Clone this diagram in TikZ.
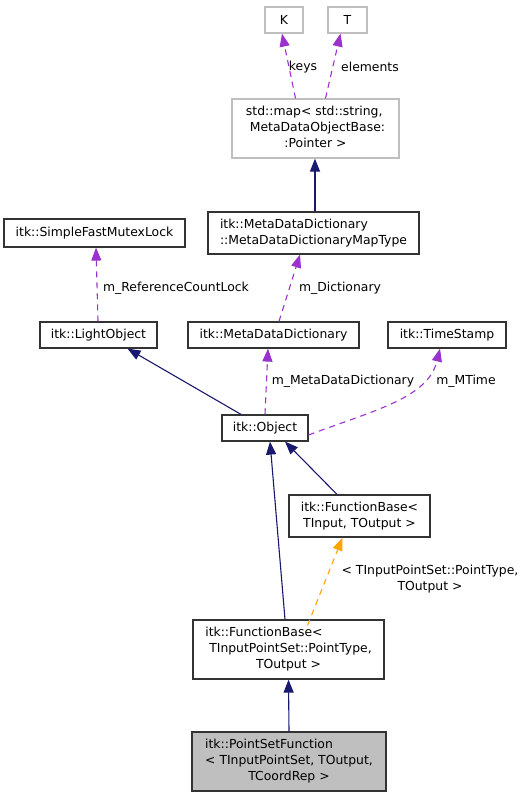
\documentclass[tikz,border=0pt]{standalone}
\usepackage{fontspec}
\setmainfont{DejaVu Sans}
\usetikzlibrary{arrows.meta}
\definecolor{navy}{HTML}{191970}
\definecolor{purp}{HTML}{9A32CD}
\definecolor{orng}{HTML}{FFA500}
\definecolor{lgray}{HTML}{BFBFBF}
\definecolor{boxline}{HTML}{333333}
\newcommand{\dfont}{\fontsize{12.4}{16}\selectfont}
\begin{document}
\begin{tikzpicture}[x=1pt,y=-1pt,
  box/.style={draw=boxline, line width=1.2pt, fill=white, inner sep=0pt, font=\dfont, align=center},
  gbox/.style={box, draw=lgray},
  lab/.style={font=\dfont, inner sep=0pt, align=center},
  tip/.style={-{Triangle[length=13pt,width=10pt]}},
  inh/.style={draw=navy, line width=1.1pt, tip},
  use/.style={draw=purp, line width=1.1pt, dash pattern=on 6pt off 5pt, tip},
  tmpl/.style={draw=orng, line width=1.1pt, dash pattern=on 6pt off 5pt, tip}
]
\useasboundingbox (0,0) rectangle (527,797);
\fill[white] (0,0) rectangle (527,797);

% nodes
\node[gbox, minimum width=38pt, minimum height=26pt] (K) at (284,20) {K};
\node[gbox, minimum width=39pt, minimum height=26pt] (T) at (347.5,20) {T};
\node[gbox, minimum width=167pt, minimum height=59pt] (map) at (315.5,128.5)
  {\begin{tabular}{@{}l@{}}std::map< std::string,\\ \ MetaDataObjectBase:\\ \multicolumn{1}{@{}c@{}}{:Pointer >}\end{tabular}};
\node[box, minimum width=211pt, minimum height=42pt] (mt) at (313.5,233)
  {\begin{tabular}{@{}l@{}}itk::MetaDataDictionary\\::MetaDataDictionaryMapType\end{tabular}};
\node[box, minimum width=181pt, minimum height=28pt] (sfml) at (94.5,233) {itk::SimpleFastMutexLock};
\node[box, minimum width=117pt, minimum height=26pt] (lo) at (98.5,335) {itk::LightObject};
\node[box, minimum width=171pt, minimum height=26pt] (mdd) at (273.5,335) {itk::MetaDataDictionary};
\node[box, minimum width=118pt, minimum height=26pt] (ts) at (447,335) {itk::TimeStamp};
\node[box, minimum width=86pt, minimum height=26pt] (obj) at (265,428) {itk::Object};
\node[box, minimum width=141pt, minimum height=42pt] (fbt) at (359.5,516)
  {\begin{tabular}{@{}l@{}}itk::FunctionBase<\\ \multicolumn{1}{@{}c@{}}{TInput, TOutput >}\end{tabular}};
\node[box, minimum width=191pt, minimum height=59pt] (fbp) at (288.5,649.5)
  {\begin{tabular}{@{}l@{}}itk::FunctionBase<\\ \ TInputPointSet::PointType,\\ \multicolumn{1}{@{}c@{}}{TOutput >}\end{tabular}};
\node[box, fill=lgray, minimum width=194pt, minimum height=59pt] (psf) at (289,761.5)
  {\begin{tabular}{@{}l@{}}itk::PointSetFunction\\< TInputPointSet, TOutput,\\ \multicolumn{1}{@{}c@{}}{TCoordRep >}\end{tabular}};

% edges
\draw[use] ([xshift=-20pt]map.north) -- ([xshift=-2pt]K.south);
\draw[use] ([xshift=10pt]map.north) -- ([xshift=-7pt]T.south);
\draw[inh] ([xshift=1.5pt]mt.north) -- ([xshift=-0.5pt]map.south);
\draw[use] ([xshift=5.5pt]mdd.north) -- ([xshift=-13.5pt]mt.south);
\draw[use] ([xshift=-0.5pt]lo.north) -- ([xshift=1.5pt]sfml.south);
\draw[inh] ([xshift=-24pt]obj.north) -- ([xshift=29pt]lo.south);
\draw[use] (obj.north) -- ([xshift=-5.5pt]mdd.south);
\coordinate (tsend) at ([xshift=-7pt]ts.south);
\draw[use] ([yshift=-7pt]obj.east) .. controls (375,410) and (428,398) .. (tsend);
\draw[inh] ([xshift=-22.5pt]fbt.north) -- ([xshift=20pt]obj.south);
\draw[inh] ([xshift=-3.5pt]fbp.north) -- ([xshift=5pt]obj.south);
\draw[tmpl] ([xshift=19pt,yshift=-6pt]fbp.north) -- ([xshift=-17pt]fbt.south);
\draw[inh] (psf.north) -- (fbp.south);

% labels
\node[lab] (lkeys) at (303,67) {keys};
\node[lab] (lel) at (370,67) {elements};
\node[lab] (lrcl) at (176,288) {m\_ReferenceCountLock};
\node[lab] (ldict) at (340,288) {m\_Dictionary};
\node[lab] (lmdd) at (343,381) {m\_MetaDataDictionary};
\node[lab] (lmt) at (466,381) {m\_MTime};
\node[lab] (ltmpl) at (430,579) {< TInputPointSet::PointType,\\TOutput >};
\end{tikzpicture}
\end{document}
